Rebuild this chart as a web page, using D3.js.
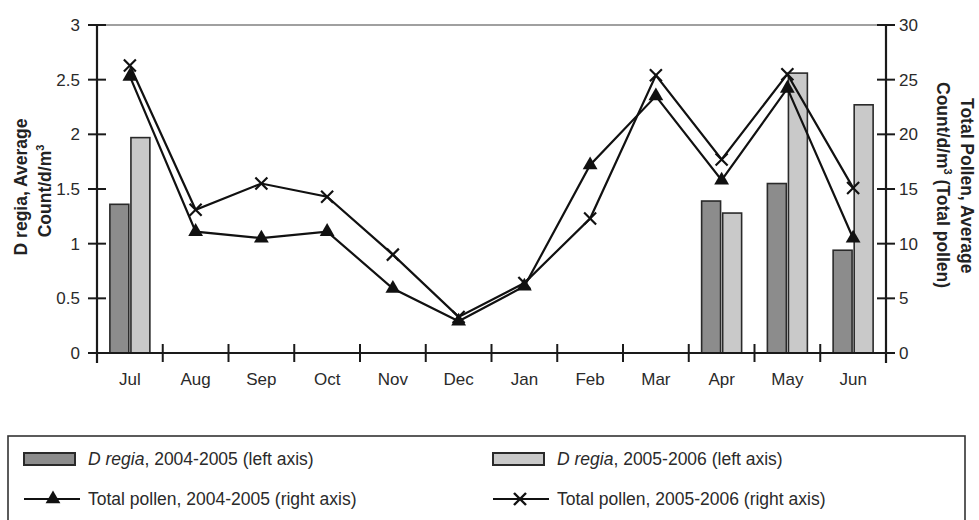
<!DOCTYPE html>
<html><head><meta charset="utf-8">
<script src="https://cdn.jsdelivr.net/npm/d3@7"></script>
<style>
body{margin:0;background:#fff;}
svg{display:block;}
</style></head>
<body>
<svg id="c" width="979" height="520"></svg>
<script>
const months = ["Jul","Aug","Sep","Oct","Nov","Dec","Jan","Feb","Mar","Apr","May","Jun"];
const dregia0405 = [1.36,null,null,null,null,null,null,null,null,1.39,1.55,0.94];
const dregia0506 = [1.97,null,null,null,null,null,null,null,null,1.28,2.56,2.27];
const pollen0405 = [25.3,11.1,10.5,11.1,5.9,2.9,6.1,17.2,23.5,15.8,24.2,10.5];
const pollen0506 = [26.3,13.1,15.5,14.3,9.0,3.3,6.4,12.3,25.4,17.7,25.5,15.1];
const leftTicks = [0,0.5,1,1.5,2,2.5,3];
const rightTicks = [0,5,10,15,20,25,30];
const seriesNames = ["D regia, 2004-2005 (left axis)","D regia, 2005-2006 (left axis)","Total pollen, 2004-2005 (right axis)","Total pollen, 2005-2006 (right axis)"];

const FONT = '"Liberation Sans", Arial, sans-serif';
const svg = d3.select("#c");
const L = 97, R = 886, T = 25, B = 353;
const x = d3.scaleBand().domain(months).range([L,R]).padding(0);
const yL = d3.scaleLinear().domain([0,3]).range([B,T]);
const yR = d3.scaleLinear().domain([0,30]).range([B,T]);
const x1 = d3.scaleBand().domain(["a","b"]).range([-20,20]).paddingInner(0.1);

const dark = "#8c8c8c", light = "#c9c9c9";

// top gridline at max
svg.append("line").attr("x1",L).attr("x2",R).attr("y1",yL(3)).attr("y2",yL(3))
  .attr("stroke","#a0a0a0").attr("stroke-width",2);

// bars
const barData = [];
months.forEach((m,i)=>{
  if(dregia0405[i]!=null) barData.push({m,k:"a",v:dregia0405[i],c:dark});
  if(dregia0506[i]!=null) barData.push({m,k:"b",v:dregia0506[i],c:light});
});
svg.append("g").selectAll("rect").data(barData).join("rect")
  .attr("x",d=>x(d.m)+x.bandwidth()/2+x1(d.k))
  .attr("width",x1.bandwidth())
  .attr("y",d=>yL(d.v)).attr("height",d=>yL(0)-yL(d.v))
  .attr("fill",d=>d.c).attr("stroke","#2a2a2a").attr("stroke-width",1.6);

// axes (labels)
const leftAxis = d3.axisLeft(yL).tickValues(leftTicks).tickFormat(d=>String(d)).tickSize(0).tickPadding(17);
const gl = svg.append("g").attr("transform",`translate(${L},0)`).call(leftAxis);
const rightAxis = d3.axisRight(yR).tickValues(rightTicks).tickFormat(d=>String(d)).tickSize(0).tickPadding(13);
const gr = svg.append("g").attr("transform",`translate(${R},0)`).call(rightAxis);
const bottomAxis = d3.axisBottom(x).tickSize(0).tickPadding(20);
const gb = svg.append("g").attr("transform",`translate(0,${B})`).call(bottomAxis);
[gl,gr,gb].forEach(g=>{
  g.select(".domain").remove();
  g.selectAll("text").attr("font-size",17).attr("fill","#2a2a2a").attr("font-family",FONT);
});
// axis lines
svg.append("line").attr("x1",L).attr("x2",L).attr("y1",T-1).attr("y2",B+10).attr("stroke","#1a1a1a").attr("stroke-width",2.2);
svg.append("line").attr("x1",R).attr("x2",R).attr("y1",T-1).attr("y2",B+10).attr("stroke","#1a1a1a").attr("stroke-width",2.2);
svg.append("line").attr("x1",L-8).attr("x2",R+8).attr("y1",B).attr("y2",B).attr("stroke","#1a1a1a").attr("stroke-width",2.2);
// cross tick marks
svg.append("g").selectAll("line").data(leftTicks).join("line")
  .attr("x1",L-9).attr("x2",L+9).attr("y1",d=>yL(d)).attr("y2",d=>yL(d)).attr("stroke","#1a1a1a").attr("stroke-width",2);
svg.append("g").selectAll("line").data(rightTicks).join("line")
  .attr("x1",R-9).attr("x2",R+9).attr("y1",d=>yR(d)).attr("y2",d=>yR(d)).attr("stroke","#1a1a1a").attr("stroke-width",2);
svg.append("g").selectAll("line").data(months.slice(1)).join("line")
  .attr("x1",d=>x(d)).attr("x2",d=>x(d)).attr("y1",B-9).attr("y2",B+9).attr("stroke","#1a1a1a").attr("stroke-width",2);

// lines
const cx = m => x(m)+x.bandwidth()/2;
const line = d3.line().x(d=>cx(d.m)).y(d=>yR(d.v));
const p05 = months.map((m,i)=>({m,v:pollen0405[i]}));
const p06 = months.map((m,i)=>({m,v:pollen0506[i]}));
svg.append("path").datum(p05).attr("d",line).attr("fill","none").attr("stroke","#111").attr("stroke-width",2.2);
svg.append("path").datum(p06).attr("d",line).attr("fill","none").attr("stroke","#111").attr("stroke-width",2.2);
const tri = d3.symbol().type(d3.symbolTriangle).size(95);
svg.append("g").selectAll("path").data(p05).join("path")
  .attr("transform",d=>`translate(${cx(d.m)},${yR(d.v)})`).attr("d",tri).attr("fill","#111");
svg.append("g").selectAll("g").data(p06).join("g")
  .attr("transform",d=>`translate(${cx(d.m)},${yR(d.v)})`)
  .call(g=>{
    g.append("line").attr("x1",-6).attr("y1",-6).attr("x2",6).attr("y2",6).attr("stroke","#111").attr("stroke-width",2.2);
    g.append("line").attr("x1",-6).attr("y1",6).attr("x2",6).attr("y2",-6).attr("stroke","#111").attr("stroke-width",2.2);
  });

// axis titles
const lt = svg.append("text").attr("transform","translate(27,187) rotate(-90)")
  .attr("text-anchor","middle").attr("font-family",FONT).attr("font-weight","bold").attr("font-size",17.5).attr("fill","#222");
lt.append("tspan").attr("x",0).attr("y",0).text("D regia, Average");
lt.append("tspan").attr("x",-4).attr("y",24).text("Count/d/m");
lt.append("tspan").attr("dy",-7).attr("font-size",11).text("3");
const rt1 = svg.append("text").attr("transform","translate(961,98) rotate(90)")
  .attr("font-family",FONT).attr("font-weight","bold").attr("font-size",17.5).attr("fill","#222");
rt1.append("tspan").attr("x",0).attr("y",0).text("Total Pollen, Average");
rt1.append("tspan").attr("x",-16).attr("y",24).text("Count/d/m");
rt1.append("tspan").attr("dy",-7).attr("font-size",11).text("3");
rt1.append("tspan").attr("dy",7).text(" (Total pollen)");

// legend
svg.append("rect").attr("x",8).attr("y",436).attr("width",957).attr("height",90)
  .attr("fill","none").attr("stroke","#333").attr("stroke-width",1.6);
const lg = svg.append("g").attr("font-family",FONT).attr("font-size",17.5).attr("fill","#2a2a2a");
const legItems = [
  {col:0,row:0,type:"bar",c:dark,name:seriesNames[0]},
  {col:1,row:0,type:"bar",c:light,name:seriesNames[1]},
  {col:0,row:1,type:"tri",name:seriesNames[2]},
  {col:1,row:1,type:"x",name:seriesNames[3]}
];
const colX=[24,493], rowY=[459,499];
legItems.forEach(it=>{
  const gx=colX[it.col], gy=rowY[it.row];
  const g=lg.append("g").attr("transform",`translate(${gx},${gy})`);
  if(it.type==="bar"){
    g.append("rect").attr("x",0).attr("y",-6).attr("width",51).attr("height",12).attr("fill",it.c).attr("stroke","#2a2a2a").attr("stroke-width",2);
  } else {
    g.append("line").attr("x1",0).attr("x2",56).attr("y1",0).attr("y2",0).attr("stroke","#111").attr("stroke-width",2);
    if(it.type==="tri") g.append("path").attr("transform","translate(29,0)").attr("d",tri).attr("fill","#111");
    else {
      g.append("line").attr("x1",21).attr("y1",-6).attr("x2",33).attr("y2",6).attr("stroke","#111").attr("stroke-width",2.4);
      g.append("line").attr("x1",21).attr("y1",6).attr("x2",33).attr("y2",-6).attr("stroke","#111").attr("stroke-width",2.4);
    }
  }
  const t=g.append("text").attr("x",64).attr("y",6);
  if(it.name.startsWith("D regia")){
    t.append("tspan").attr("font-style","italic").text("D regia");
    t.append("tspan").text(it.name.slice(7));
  } else t.text(it.name);
});
</script>
</body></html>
